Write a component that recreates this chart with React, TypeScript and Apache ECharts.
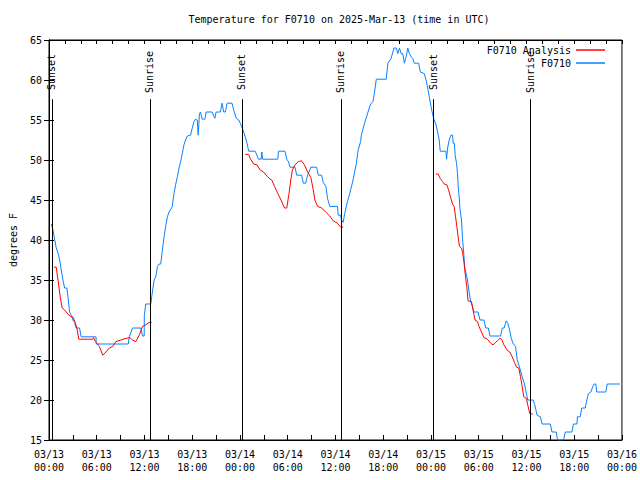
import React, { useEffect, useRef } from 'react';
import * as echarts from 'echarts';

const FONT = 'DejaVu Sans Mono';

// hours since 03/13 00:00 UTC, temperature (F)
const observed: [number, number][] = [
  [0.29, 42.0], [0.5, 41.25], [0.71, 40.1], [0.91, 39], [1.13, 38.4], [1.34, 37.5], [1.54, 36.25],
  [1.75, 35], [1.96, 34], [2.25, 34], [2.38, 32.9], [2.59, 31], [2.79, 30.6], [3.0, 30], [3.21, 29.7],
  [3.41, 29], [3.84, 29], [4.04, 27.9], [5.91, 27.9], [5.93, 27], [9.96, 27], [10.09, 27.9], [10.5, 29],
  [11.54, 29], [11.75, 28], [11.96, 28], [11.98, 30.6], [12.16, 32], [12.79, 32], [12.91, 32.9],
  [13.21, 35], [13.41, 35.4], [13.63, 36.7], [13.84, 37], [14.04, 37], [14.25, 38.75], [14.46, 40.4],
  [14.66, 41.7], [14.88, 42.9], [15.09, 43.5], [15.5, 44.2], [15.59, 45], [15.71, 45.8], [15.91, 46.9],
  [16.13, 47.9], [16.34, 49], [16.54, 49.8], [16.75, 50.8], [16.96, 51.9], [17.16, 52.5], [17.38, 53],
  [17.79, 53.1], [18.0, 54], [18.21, 54.8], [18.41, 55.1], [18.63, 55], [18.75, 53.1], [18.91, 55.8],
  [19.04, 56], [19.25, 55.1], [19.59, 55.1], [19.75, 56], [20.5, 56], [20.84, 55.2], [21.0, 56],
  [21.54, 56], [21.75, 57.1], [21.96, 56], [22.16, 56], [22.38, 57.1], [23.0, 57.1], [23.21, 56.25],
  [23.54, 55.2], [23.84, 55], [24.04, 54.6], [24.38, 53.75], [24.66, 52.9], [24.88, 52.1], [25.09, 51.1],
  [25.91, 51.1], [26.34, 50.1], [26.66, 50.1], [26.75, 51], [26.84, 50.1], [28.75, 50.1], [28.84, 51.1],
  [29.66, 51.1], [29.88, 50.1], [30.09, 49.8], [30.29, 49.1], [30.91, 49.1], [31.13, 48.1], [31.75, 48.1],
  [31.96, 47.1], [32.25, 47.1], [32.5, 48.1], [32.91, 49.1], [33.63, 49.1], [33.84, 48.1], [34.25, 48.1],
  [34.46, 47.2], [34.79, 46.7], [35.0, 45.2], [35.29, 44.2], [36.25, 44.2], [36.34, 43.1], [36.63, 43.1],
  [36.75, 42.5], [36.96, 42.2], [37.16, 43.3], [37.5, 44.8], [37.79, 45.8], [38.21, 47.5], [38.63, 49.6],
  [38.84, 51.2], [39.16, 52.3], [39.25, 53.1], [39.66, 54.6], [40.09, 56], [40.41, 57], [40.71, 57.3],
  [40.91, 58.5], [41.13, 60.1], [42.38, 60.1], [42.59, 62.1], [43.0, 62.7], [43.34, 64], [43.63, 64],
  [43.84, 63.3], [44.04, 64], [44.25, 63.3], [44.46, 63.3], [44.66, 62.1], [44.88, 62.9], [45.09, 64],
  [45.29, 63.3], [45.5, 62.9], [45.71, 62.7], [45.91, 62.1], [46.46, 62.1], [46.66, 61.0], [47.16, 60.8],
  [47.38, 60], [47.59, 59], [47.79, 57.9], [48.09, 56.25], [48.34, 55.2], [48.63, 54.4], [48.84, 53.5],
  [49.04, 52.5], [49.16, 51.1], [49.88, 51.1], [49.96, 50.1], [50.09, 51.5], [50.29, 52.5], [50.5, 53.1],
  [50.71, 53.1], [50.79, 52.1], [50.94, 52.1], [51.04, 50.6], [51.21, 49.6], [51.34, 48.3], [51.41, 46.9],
  [51.54, 45.4], [51.66, 43.75], [51.84, 42.5], [51.96, 40.2], [52.09, 38.75], [52.25, 36.5],
  [52.46, 35.6], [52.59, 35], [52.79, 33.5], [53.0, 32.3], [53.21, 31.7], [53.41, 31], [53.91, 31],
  [54.16, 30], [54.66, 30], [54.88, 29], [55.21, 29], [55.41, 28], [56.75, 28], [56.96, 29], [57.19, 29],
  [57.46, 29.9], [57.66, 29.6], [57.88, 28.75], [58.09, 27.7], [58.34, 27], [58.63, 26.7], [58.84, 25],
  [59.16, 24], [59.46, 22.9], [59.75, 22], [60.0, 20.8], [60.16, 20], [60.84, 20], [61.04, 19.4],
  [61.34, 18.1], [61.75, 17.9], [61.96, 17], [63.0, 17], [63.21, 16], [63.75, 16], [63.91, 15],
  [64.66, 15], [64.88, 16], [65.71, 16], [65.91, 17], [66.34, 17], [66.41, 17.9], [66.75, 17.9],
  [66.96, 19], [67.38, 19], [67.59, 20], [67.79, 20.8], [68.09, 21], [68.34, 21.7], [68.5, 22],
  [68.71, 22], [68.84, 21], [69.96, 21], [70.16, 22], [71.75, 22],
];

const analysisNight1: [number, number][] = [
  [0.63, 36.6], [0.91, 36.6], [1.13, 35], [1.41, 32.9], [1.66, 31.5], [1.96, 31.25], [2.38, 30.75],
  [2.59, 30.5], [3.0, 30.4], [3.29, 29.7], [3.5, 29], [3.75, 27.6], [5.5, 27.6], [5.59, 27.8],
  [5.84, 27.3], [6.34, 26.7], [6.75, 25.6], [7.16, 26], [7.59, 26.5], [8.0, 26.7], [8.41, 27.3],
  [9.04, 27.5], [9.66, 27.7], [10.16, 27.8], [10.5, 27.5], [10.91, 27.3], [11.34, 28.1], [11.75, 29.2],
  [12.16, 29.4], [12.59, 29.7], [12.91, 29.7],
];

const analysisNight2: [number, number][] = [
  [24.66, 50.7], [25.09, 50.7], [25.29, 50.2], [25.71, 49.5], [26.13, 49.4], [26.54, 48.75],
  [26.96, 48.5], [27.38, 48], [27.79, 47.6], [28.0, 47.5], [28.34, 46.7], [28.75, 45.8], [29.16, 45],
  [29.59, 44], [29.88, 44], [30.16, 45.8], [30.41, 47.7], [30.59, 48.75], [30.91, 49.4], [31.34, 49.8],
  [31.75, 49.9], [32.09, 49.4], [32.5, 48.5], [32.91, 47.8], [33.21, 46.25], [33.41, 45], [33.75, 44.2],
  [34.25, 44], [34.88, 43.4], [35.29, 43], [35.71, 42.4], [36.25, 42.1], [36.66, 41.6], [36.96, 41.6],
];

const analysisNight3: [number, number][] = [
  [48.63, 48.25], [48.91, 48.25], [49.16, 47.7], [49.46, 47.3], [49.66, 47], [50.0, 46.9], [50.29, 46],
  [50.5, 45.2], [50.71, 44.5], [50.91, 44.2], [51.09, 42.9], [51.25, 41.7], [51.41, 40.4], [51.59, 39.2],
  [51.84, 39], [52.0, 38.3], [52.16, 37.1], [52.34, 35.4], [52.5, 34.2], [52.66, 32.4], [53.09, 32.3],
  [53.29, 31.25], [53.54, 30], [53.84, 29.8], [54.04, 29.2], [54.34, 28.5], [54.66, 27.8], [55.09, 27.6],
  [55.5, 27.1], [55.79, 26.9], [56.04, 27.1], [56.34, 27.4], [56.66, 27.7], [56.88, 27.6], [57.16, 26.9],
  [57.59, 26.2], [57.91, 26], [58.21, 25.4], [58.5, 24.7], [58.75, 24.1], [59.04, 24], [59.25, 22.9],
  [59.46, 21.7], [59.66, 20.4], [60.0, 20.2], [60.16, 19.4], [60.41, 18.3], [60.79, 18.25],
];

const sunTimes = [0.375, 12.67, 24.25, 36.67, 48.3, 60.5];
const sunLabels = ['Sunset', 'Sunrise', 'Sunset', 'Sunrise', 'Sunset', 'Sunrise'];

const tickLabels = [
  '03/13\n00:00', '03/13\n06:00', '03/13\n12:00', '03/13\n18:00',
  '03/14\n00:00', '03/14\n06:00', '03/14\n12:00', '03/14\n18:00',
  '03/15\n00:00', '03/15\n06:00', '03/15\n12:00', '03/15\n18:00',
  '03/16\n00:00',
];

const RED = '#ff0000';
const BLUE = '#0a80ff';
const LINE_TOP = 57.6;
const LABEL_Y = 61;

export default function App() {
  const ref = useRef<HTMLDivElement>(null);
  useEffect(() => {
    const chart = echarts.init(ref.current!, null, { renderer: 'svg' });
    const textBase = { fontFamily: FONT, fontSize: 10, color: '#000' };
    const analysisSeries = [analysisNight1, analysisNight2, analysisNight3].map((d) => ({
      name: 'F0710 Analysis',
      type: 'line',
      data: d,
      symbol: 'none',
      lineStyle: { color: RED, width: 1 },
      itemStyle: { color: RED },
      clip: true,
      z: 4,
    }));
    chart.setOption({
      animation: false,
      backgroundColor: '#fff',
      title: {
        text: 'Temperature for F0710 on 2025-Mar-13 (time in UTC)',
        left: 334,
        textAlign: 'center',
        top: 9,
        textStyle: { ...textBase, fontWeight: 'normal' },
      },
      legend: {
        data: [
          { name: 'F0710 Analysis', icon: 'rect', itemStyle: { color: RED } },
          { name: 'F0710', icon: 'rect', itemStyle: { color: BLUE } },
        ],
        orient: 'vertical',
        right: 30,
        top: 40,
        align: 'right',
        itemWidth: 29,
        itemHeight: 1.5,
        itemGap: 3,
        textStyle: textBase,
        selectedMode: false,
      },
      grid: {
        left: 46, right: 18, top: 40, bottom: 40,
        show: true, borderColor: '#000', borderWidth: 1, backgroundColor: 'transparent',
      },
      xAxis: [
        {
          type: 'value', min: 0, max: 72, interval: 6, position: 'bottom',
          axisLine: { show: true, lineStyle: { color: '#000', width: 1 } },
          axisTick: { show: true, inside: true, length: 5, lineStyle: { color: '#000' } },
          minorTick: { show: true, splitNumber: 2, length: 5, lineStyle: { color: '#000' } },
          splitLine: { show: false },
          axisLabel: {
            ...textBase, margin: 8, lineHeight: 13, hideOverlap: false,
            showMinLabel: true, showMaxLabel: true,
            formatter: (v: number) => tickLabels[Math.round(v / 6)] ?? '',
          },
        },
        {
          type: 'value', min: 0, max: 72, interval: 2, position: 'top',
          axisLine: { show: true, lineStyle: { color: '#000', width: 1 } },
          axisTick: { show: true, inside: true, length: 4, lineStyle: { color: '#000' } },
          axisLabel: { show: false },
          splitLine: { show: false },
        },
      ],
      yAxis: [
        {
          type: 'value', min: 15, max: 65, interval: 5, position: 'left',
          name: 'degrees F', nameLocation: 'middle', nameGap: 31, nameRotate: 90,
          nameTextStyle: textBase,
          axisLine: { show: true, lineStyle: { color: '#000', width: 1 } },
          axisTick: { show: true, inside: true, length: 5, lineStyle: { color: '#000' } },
          axisLabel: { ...textBase, margin: 7 },
          splitLine: { show: false },
        },
        {
          type: 'value', min: 15, max: 65, interval: 5, position: 'right',
          axisLine: { show: true, lineStyle: { color: '#000', width: 1 } },
          axisTick: { show: true, inside: true, length: 5, lineStyle: { color: '#000' } },
          axisLabel: { show: false },
          splitLine: { show: false },
        },
      ],
      series: [
        {
          name: 'F0710',
          type: 'line',
          data: observed,
          symbol: 'none',
          lineStyle: { color: BLUE, width: 1 },
          itemStyle: { color: BLUE },
          clip: true,
          z: 3,
        },
        ...analysisSeries,
        {
          name: 'sun',
          type: 'scatter',
          data: sunTimes.map((t, i) => ({ value: [t, LABEL_Y], name: sunLabels[i] })),
          symbolSize: 1,
          itemStyle: { color: 'rgba(0,0,0,0)' },
          silent: true,
          z: 5,
          label: {
            show: true,
            position: 'inside',
            rotate: 90,
            align: 'center',
            verticalAlign: 'middle',
            formatter: '{b}',
            ...textBase,
            opacity: 1,
            textBorderWidth: 0,
          },
          labelLayout: { hideOverlap: false },
          markLine: {
            silent: true,
            symbol: ['none', 'none'],
            label: { show: false },
            lineStyle: { color: '#000', width: 1, type: 'solid' },
            data: sunTimes.map((t) => [{ coord: [t, 15] }, { coord: [t, LINE_TOP] }]),
          },
        },
      ],
    });
    return () => chart.dispose();
  }, []);
  return <div ref={ref} style={{ position: 'fixed', left: 0, top: 0, width: 640, height: 480 }} />;
}
